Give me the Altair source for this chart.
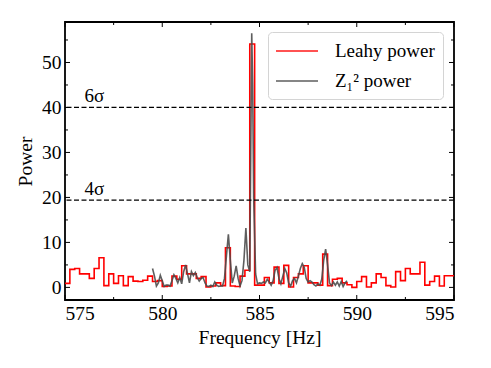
import altair as alt
import pandas as pd

# Leahy power, 0.25 Hz bins starting at 575 Hz
leahy_start = 575.0
leahy_bin = 0.25
leahy_power = [
    0.9, 4.0, 4.2, 3.0, 3.0, 2.0, 4.2, 6.6, 0.4, 3.0,
    0.9, 2.6, 0.4, 2.4, 1.4, 1.3, 1.6, 2.5, 1.3, 1.5,
    0.2, 0.3, 2.5, 1.8, 4.8, 3.0, 3.0, 2.0, 2.4, 0.1,
    0.3, 1.0, 0.4, 8.8, 0.3, 0.2, 2.5, 3.8, 54.1, 0.5,
    0.5, 2.2, 1.0, 4.5, 0.9, 4.9, 0.1, 2.2, 3.0, 4.8,
    1.0, 1.0, 0.5, 7.4, 0.4, 1.8, 2.0, 1.0, 0.6, 0.0,
    1.3, 2.4, 0.1, 1.0, 3.0, 2.2, 0.4, 0.1, 3.5, 1.5,
    4.2, 3.0, 3.0, 5.6, 0.5, 1.3, 2.5, 0.3, 2.6, 2.6,
]

z2_freq = [
    579.5, 579.6, 579.7, 579.8, 579.9, 580.0, 580.1, 580.2, 580.3, 580.4,
    580.5, 580.6, 580.7, 580.8, 580.9, 581.0, 581.1, 581.2, 581.3, 581.4,
    581.5, 581.6, 581.7, 581.8, 581.9, 582.0, 582.1, 582.2, 582.3, 582.4,
    582.5, 582.6, 582.7, 582.8, 582.9, 583.0, 583.1, 583.2, 583.3, 583.4,
    583.5, 583.6, 583.7, 583.8, 583.9, 584.0, 584.1, 584.2, 584.3, 584.4,
    584.5, 584.55, 584.6, 584.65, 584.7, 584.8, 584.9, 585.0, 585.1, 585.2,
    585.3, 585.4, 585.5, 585.6, 585.7, 585.8, 585.9, 586.0, 586.1, 586.2,
    586.3, 586.4, 586.5, 586.6, 586.7, 586.8, 586.9, 587.0, 587.1, 587.2,
    587.3, 587.4, 587.5, 587.6, 587.7, 587.8, 587.9, 588.0, 588.1, 588.2,
    588.3, 588.4, 588.5, 588.6, 588.7, 588.8, 588.9, 589.0, 589.1, 589.2,
    589.3, 589.4, 589.5,
]
z2_power = [
    4.2, 2.5, 0.3, 1.0, 2.7, 1.5, 0.2, 0.5, 0.5, 0.3,
    1.5, 2.8, 2.0, 1.0, 2.2, 0.8, 3.5, 5.0, 3.0, 1.0,
    3.5, 2.6, 3.3, 2.2, 1.4, 2.0, 2.2, 1.0, 0.3, 0.2,
    0.5, 0.2, 1.2, 0.5, 0.2, 0.3, 0.3, 2.0, 7.0, 11.8,
    6.0, 1.0, 2.5, 4.8, 2.0, 0.3, 1.5, 6.0, 13.2, 5.0,
    3.5, 30.0, 56.5, 45.0, 20.0, 3.0, 0.8, 1.0, 0.9, 1.2,
    1.0, 1.8, 1.2, 0.5, 1.5, 3.8, 4.4, 2.0, 0.8, 2.5,
    4.2, 3.2, 1.0, 0.3, 1.5, 2.0, 1.0, 2.5, 4.2, 5.3,
    4.5, 2.0, 1.2, 1.5, 1.2, 0.6, 0.3, 0.8, 0.5, 1.8,
    6.0, 8.5, 5.0, 1.0, 0.4, 1.2, 0.5, 1.2, 0.3, 1.3,
    0.2, 1.0, 1.5,
]

series_names = ["Leahy power", "Z\u2081\u00b2 power"]
series_colors = ["#ff0000", "#4d4d4d"]

sig_levels = [40.0, 19.4]
sig_labels = ["6\u03c3", "4\u03c3"]
sig_label_x = [576.0, 576.0]

x_major = [575, 580, 585, 590, 595]
x_minor = [577.5, 582.5, 587.5, 592.5]
y_major = [0, 10, 20, 30, 40, 50]
y_minor = [5, 15, 25, 35, 45, 55]

x_domain = [575, 595]
y_domain = [-2.8, 59.0]

W, H = 389, 278
FONT = "'Liberation Serif', 'DejaVu Serif', serif"

leahy_freq = [leahy_start + leahy_bin * i for i in range(len(leahy_power))]
leahy_df = pd.DataFrame({
    "f": leahy_freq + [leahy_start + leahy_bin * len(leahy_power)],
    "p": leahy_power + [leahy_power[-1]],
    "s": series_names[0],
})
z2_df = pd.DataFrame({"f": z2_freq, "p": z2_power, "s": series_names[1]})
sig_df = pd.DataFrame({"y": sig_levels, "label": sig_labels, "x": sig_label_x})

xs = alt.Scale(domain=x_domain, nice=False, zero=False)
ys = alt.Scale(domain=y_domain, nice=False, zero=False)

color = alt.Color(
    "s:N",
    scale=alt.Scale(domain=series_names, range=series_colors),
    legend=alt.Legend(
        title=None, orient="none", legendX=203, legendY=10,
        symbolType="M-1.1,0H3.1", symbolSize=400, symbolStrokeWidth=1.6,
        labelFont=FONT, labelFontSize=19, labelColor="black",
        fillColor="white", strokeColor="#d4d4d4", cornerRadius=4,
        padding=8, rowPadding=9, labelOffset=37,
    ),
)

x_axis = alt.Axis(values=x_major, title="Frequency [Hz]", labelPadding=4, titlePadding=6)
y_axis = alt.Axis(values=y_major, title="Power", labelPadding=4, titlePadding=6)

leahy = alt.Chart(leahy_df).mark_line(interpolate="step-after", strokeWidth=1.6).encode(
    x=alt.X("f:Q", scale=xs, axis=x_axis),
    y=alt.Y("p:Q", scale=ys, axis=y_axis),
    color=color,
    order="f:Q",
)
z2 = alt.Chart(z2_df).mark_line(strokeWidth=1.6, opacity=0.9).encode(
    x=alt.X("f:Q", scale=xs),
    y=alt.Y("p:Q", scale=ys),
    color=color,
    order="f:Q",
)

sig_lines = alt.Chart(sig_df).mark_rule(color="black", strokeDash=[5, 2.5], strokeWidth=1.3).encode(
    y=alt.Y("y:Q", scale=ys)
)
sig_text = alt.Chart(sig_df).mark_text(
    align="left", baseline="bottom", font=FONT, fontSize=19, dy=-1, color="black"
).encode(x=alt.X("x:Q", scale=xs), y=alt.Y("y:Q", scale=ys), text="label:N")

def xticks(vals, length):
    d = pd.DataFrame({"v": vals})
    b = alt.Chart(d).mark_rule(color="black", strokeWidth=1).encode(
        x=alt.X("v:Q", scale=xs), y=alt.value(H), y2=alt.value(H - length))
    t = alt.Chart(d).mark_rule(color="black", strokeWidth=1).encode(
        x=alt.X("v:Q", scale=xs), y=alt.value(0), y2=alt.value(length))
    return [b, t]

def yticks(vals, length):
    d = pd.DataFrame({"v": vals})
    l = alt.Chart(d).mark_rule(color="black", strokeWidth=1).encode(
        y=alt.Y("v:Q", scale=ys), x=alt.value(0), x2=alt.value(length))
    r = alt.Chart(d).mark_rule(color="black", strokeWidth=1).encode(
        y=alt.Y("v:Q", scale=ys), x=alt.value(W), x2=alt.value(W - length))
    return [l, r]

ticks = xticks(x_major, 5) + xticks(x_minor, 3) + yticks(y_major, 5) + yticks(y_minor, 3)

chart = alt.layer(
    leahy, z2, sig_lines, sig_text, *ticks
).properties(
    width=W, height=H,
    autosize=alt.AutoSizeParams(type="none"),
    padding={"left": 57, "top": 14, "right": 29, "bottom": 52},
).configure(
    font=FONT
).configure_view(
    stroke="black", strokeWidth=1.8
).configure_axis(
    grid=False, domain=False, ticks=False,
    labelFont=FONT, labelFontSize=19.5, labelColor="black",
    titleFont=FONT, titleFontSize=19.5, titleColor="black", titleFontWeight="normal",
)

chart.save("out.html", embed_options={"renderer": "svg", "actions": False})
